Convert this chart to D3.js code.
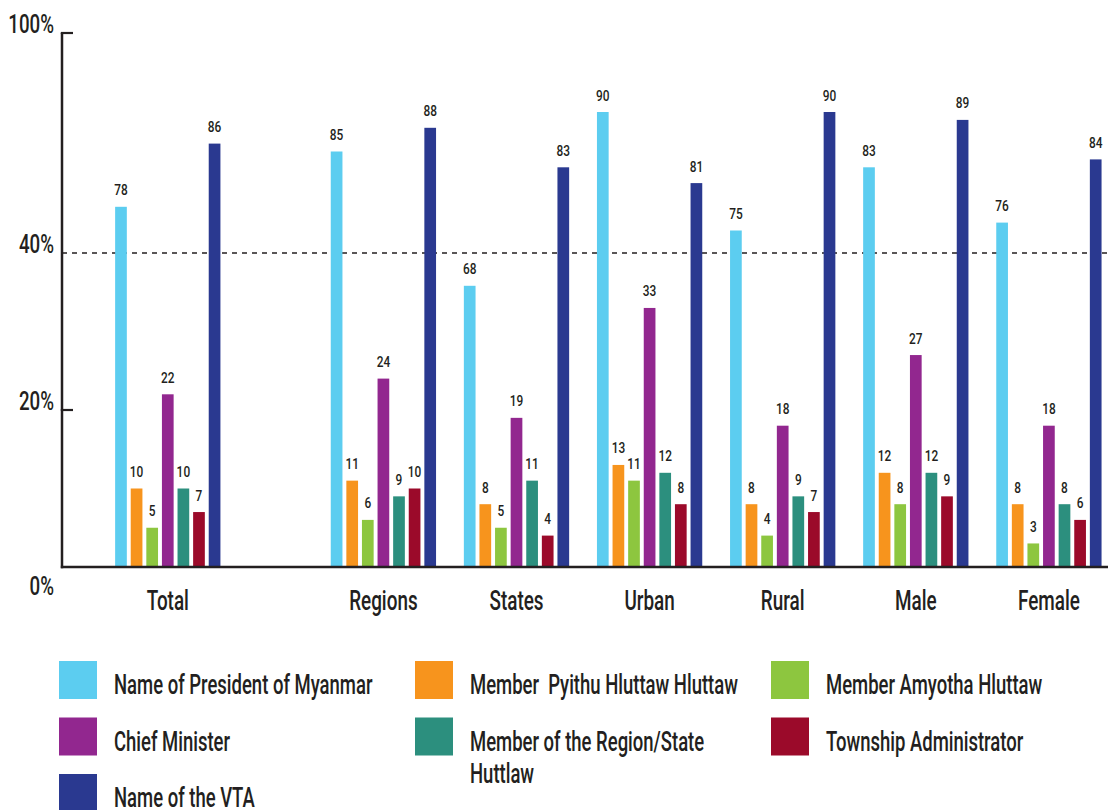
<!DOCTYPE html>
<html>
<head>
<meta charset="utf-8">
<script src="https://cdn.jsdelivr.net/npm/d3@7"></script>
<style>
  html, body { margin: 0; padding: 0; background: #ffffff; }
  svg { display: block; }
  text { font-family: Roboto, "Liberation Sans", sans-serif; fill: #231f20; }
</style>
</head>
<body>
<svg id="chart" width="1114" height="810"></svg>
<script>
// Groups along the x axis
const categories = ["Total", "Regions", "States", "Urban", "Rural", "Male", "Female"];

// Series (one bar per series in each group)
const seriesNames = [
  "Name of President of Myanmar",
  "Member  Pyithu Hluttaw Hluttaw",
  "Member Amyotha Hluttaw",
  "Chief Minister",
  "Member of the Region/State Huttlaw",
  "Township Administrator",
  "Name of the VTA"
];
const seriesColors = ["#5ccdf0", "#f7941d", "#8dc63f", "#92278f", "#2c8f7e", "#9b0a2a", "#2a3990"];

// Percentages, one value per group
const presidentValues   = [78, 85, 68, 90, 75, 83, 76];
const pyithuValues      = [10, 11, 8, 13, 8, 12, 8];
const amyothaValues     = [5, 6, 5, 11, 4, 8, 3];
const chiefMinValues    = [22, 24, 19, 33, 18, 27, 18];
const regionStateValues = [10, 9, 11, 12, 9, 12, 8];
const townshipValues    = [7, 10, 4, 8, 7, 9, 6];
const vtaValues         = [86, 88, 83, 81, 90, 89, 84];

const seriesValues = [presidentValues, pyithuValues, amyothaValues, chiefMinValues,
                      regionStateValues, townshipValues, vtaValues];

// Y axis ticks (the axis is broken above 40%)
const yTicks = [0, 20, 40, 100];

// ---------------------------------------------------------------
const svg = d3.select("#chart");

const axisLeftX = 62, axisRightX = 1108;

// Broken scale: 0-40 on the lower segment, 60-100 on the upper one
const y = d3.scaleLinear()
  .domain([0, 40, 60, 100])
  .range([567, 253, 349, 33]);

// Group centres: evenly spaced sub-groups, with extra room after "Total"
const totalGap = 1.62;
const groupIndex = d3.scaleLinear().domain([0, categories.length - 2]).range([383.4, 1048.9]);
const groupX = (i) => i === 0 ? groupIndex(-totalGap) : groupIndex(i - 1);

// Bars inside a group
const inner = d3.scaleBand()
  .domain(d3.range(seriesNames.length))
  .range([-52.65, 52.65])
  .paddingInner(0.25)
  .paddingOuter(0);

// Helper for horizontally condensed text
function condensedText(parent, x, yPos, str, opts) {
  const g = parent.append("g")
    .attr("transform", `translate(${x},${yPos}) scale(${opts.sx},1)`);
  const t = g.append("text")
    .attr("x", 0).attr("y", 0)
    .attr("text-anchor", opts.anchor || "start")
    .style("font-size", opts.size + "px")
    .style("font-weight", opts.weight || 500)
    .style("white-space", "pre")
    .text(str);
  return { g, t };
}

// Dashed reference line at 40%
svg.append("line")
  .attr("x1", axisLeftX).attr("x2", axisRightX)
  .attr("y1", y(40)).attr("y2", y(40))
  .attr("stroke", "#231f20")
  .attr("stroke-width", 1.3)
  .attr("stroke-dasharray", "5,5");

// Bars
const rows = categories.map((c, ci) => ({
  cat: c, ci,
  vals: seriesValues.map((arr, si) => ({ si, v: arr[ci] }))
}));

const groups = svg.append("g").selectAll("g.group")
  .data(rows).join("g")
  .attr("class", "group")
  .attr("transform", d => `translate(${groupX(d.ci)},0)`);

groups.selectAll("rect")
  .data(d => d.vals).join("rect")
  .attr("x", d => inner(d.si))
  .attr("width", inner.bandwidth())
  .attr("y", d => y(d.v))
  .attr("height", d => y(0) - y(d.v))
  .attr("fill", d => seriesColors[d.si]);

// Value labels
groups.each(function (row) {
  const g = d3.select(this);
  row.vals.forEach(d => {
    condensedText(g, inner(d.si) + inner.bandwidth() / 2, y(d.v) - 11.5, String(d.v),
      { sx: 0.82, size: 14.5, anchor: "middle", weight: 500 });
  });
});

// Axes lines
svg.append("line")
  .attr("x1", axisLeftX).attr("x2", axisLeftX)
  .attr("y1", y(100)).attr("y2", y(0) + 1.2)
  .attr("stroke", "#231f20").attr("stroke-width", 2.5);
svg.append("line")
  .attr("x1", axisLeftX - 1.2).attr("x2", axisRightX)
  .attr("y1", y(0)).attr("y2", y(0))
  .attr("stroke", "#231f20").attr("stroke-width", 2.5);

// Small inward ticks at 20% and 100%
[20, 100].forEach(t => {
  svg.append("line")
    .attr("x1", axisLeftX - 1.2).attr("x2", axisLeftX + 11)
    .attr("y1", y(t)).attr("y2", y(t))
    .attr("stroke", "#231f20").attr("stroke-width", 2.2);
});

// Tick labels
yTicks.forEach(t => {
  const base = t === 0 ? y(0) + 28 : y(t);
  condensedText(svg, 54, base, t + "%", { sx: 0.72, size: 26, anchor: "end", weight: 500 });
});

// Category labels
categories.forEach((c, i) => {
  condensedText(svg, groupX(i), 610, c, { sx: 0.70, size: 27, anchor: "middle", weight: 500 });
});

// Legend: 3 columns, row-major
const legendCols = 3, legendX0 = 59, legendY0 = 661, colStep = 356, rowStep = 56.5;
const swatch = 38, textOffset = 55, maxTextWidth = 290, lineHeight = 33;

seriesNames.forEach((name, i) => {
  const col = i % legendCols, row = Math.floor(i / legendCols);
  const lx = legendX0 + col * colStep, ly = legendY0 + row * rowStep;
  svg.append("rect")
    .attr("x", lx).attr("y", ly)
    .attr("width", swatch).attr("height", swatch)
    .attr("fill", seriesColors[i]);

  const sx = 0.685;
  const { t } = condensedText(svg, lx + textOffset, ly + 33, "", { sx, size: 27, weight: 500 });
  // word wrap within the column
  const words = name.split(" ");
  let line = [];
  let tspan = t.append("tspan").attr("x", 0).attr("dy", 0);
  words.forEach((w) => {
    line.push(w);
    tspan.text(line.join(" "));
    if (tspan.node().getComputedTextLength() * sx > maxTextWidth && line.length > 1) {
      line.pop();
      tspan.text(line.join(" "));
      line = [w];
      tspan = t.append("tspan").attr("x", 0).attr("dy", lineHeight).text(w);
    }
  });
});
</script>
</body>
</html>
